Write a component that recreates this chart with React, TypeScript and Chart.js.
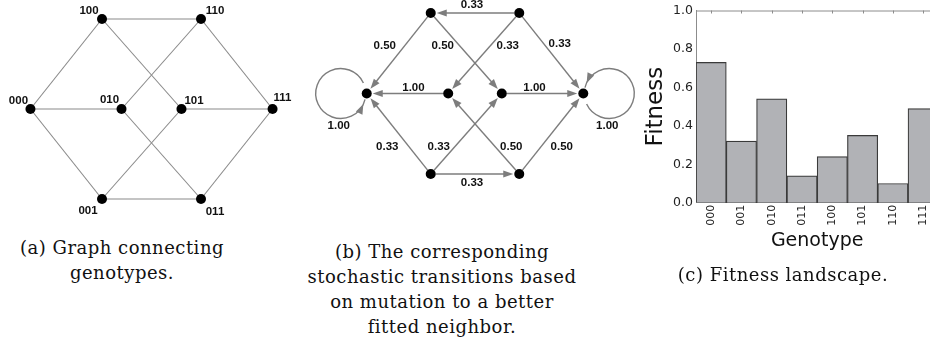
import React, { useEffect, useRef } from 'react';
import { Chart, registerables } from 'chart.js';

Chart.register(...registerables);

// ---------- data ----------
const genotypes = ['000', '001', '010', '011', '100', '101', '110', '111'];
const fitness = [0.73, 0.32, 0.54, 0.14, 0.24, 0.35, 0.1, 0.49];
const yTickValues = [0, 0.2, 0.4, 0.6, 0.8, 1.0];

// graph layout of the genotype cube (graph units)
const nodeX = [-1.345, -0.55, -0.333, 0.55, -0.55, 0.333, 0.55, 1.345];
const nodeY = [0, -1, 0, -1, 1, 0, 1, 0];

// (a) undirected edges of the genotype graph
const edgeFrom = ['000', '000', '000', '100', '100', '110', '110', '010', '101', '101', '111', '001'];
const edgeTo = ['100', '010', '001', '110', '101', '010', '111', '011', '001', '111', '011', '011'];

// (b) stochastic transitions
const transFrom = ['110', '100', '100', '110', '110', '010', '101', '001', '001', '011', '011', '001'];
const transTo = ['100', '000', '101', '010', '111', '000', '111', '000', '101', '010', '111', '011'];
const transProb = [0.33, 0.5, 0.5, 0.33, 0.33, 1.0, 1.0, 0.33, 0.33, 0.5, 0.5, 0.33];
const loopNodes = ['000', '111'];
const loopProb = [1.0, 1.0];

// ---------- style ----------
const nodeLabelOffsets: [number, number][] = [
  [-12, -8], [-14, 12], [-12, -9], [14, 13], [-13, -8], [12.5, -8], [14, -8], [10, -11],
];
const transLabelOffsets: [number, number][] = [
  [-3, -8], [-14, -7.5], [-23.5, -7.5], [24, -7.5], [8.5, -9.5], [6, -6], [-8, -6],
  [-11.5, 13], [-27.5, 13], [27.5, 13], [10.5, 13], [-3, 9],
];
const LABEL_FONT = 'bold 11.5px "Liberation Sans", Arial, sans-serif';
const EDGE_GRAY = '#8a8a8a';
const ARROW_GRAY = '#7d7d7d';

const idx = (g: string) => genotypes.indexOf(g);
const nodePoints = () => genotypes.map((g, i) => ({ x: nodeX[i], y: nodeY[i] }));

function hiddenScales(xmin: number, xmax: number, ymin: number, ymax: number) {
  return {
    x: { type: 'linear' as const, min: xmin, max: xmax, display: false },
    y: { type: 'linear' as const, min: ymin, max: ymax, display: false },
  };
}

const baseOpts = {
  responsive: false,
  animation: false as const,
  events: [] as any[],
  layout: { padding: 0, autoPadding: false },
  plugins: { legend: { display: false }, tooltip: { enabled: false } },
};

// ---------- panel (a) ----------
const nodeLabelPlugin = {
  id: 'nodeLabels',
  afterDatasetsDraw(chart: any) {
    const { ctx, scales } = chart;
    ctx.save();
    ctx.font = LABEL_FONT;
    ctx.fillStyle = '#111';
    ctx.textAlign = 'center';
    ctx.textBaseline = 'middle';
    genotypes.forEach((g, i) => {
      const px = scales.x.getPixelForValue(nodeX[i]) + nodeLabelOffsets[i][0];
      const py = scales.y.getPixelForValue(nodeY[i]) + nodeLabelOffsets[i][1];
      ctx.fillText(g, px, py);
    });
    ctx.restore();
  },
};

// ---------- panel (b) ----------
function drawArrowHead(ctx: CanvasRenderingContext2D, tx: number, ty: number, ux: number, uy: number) {
  const len = 10, half = 3.6;
  const bx = tx - ux * len, by = ty - uy * len;
  ctx.beginPath();
  ctx.moveTo(tx, ty);
  ctx.lineTo(bx - uy * half, by + ux * half);
  ctx.lineTo(bx + uy * half, by - ux * half);
  ctx.closePath();
  ctx.fill();
}

const transitionPlugin = {
  id: 'transitions',
  beforeDatasetsDraw(chart: any) {
    const { ctx, scales } = chart;
    const P = (g: string) => {
      const i = idx(g);
      return [scales.x.getPixelForValue(nodeX[i]), scales.y.getPixelForValue(nodeY[i])];
    };
    ctx.save();
    ctx.strokeStyle = ARROW_GRAY;
    ctx.fillStyle = ARROW_GRAY;
    ctx.lineWidth = 1.4;
    transFrom.forEach((f, k) => {
      const [x1, y1] = P(f);
      const [x2, y2] = P(transTo[k]);
      const dx = x2 - x1, dy = y2 - y1;
      const L = Math.hypot(dx, dy);
      const ux = dx / L, uy = dy / L;
      const tx = x2 - ux * 6, ty = y2 - uy * 6;
      ctx.beginPath();
      ctx.moveTo(x1 + ux * 5, y1 + uy * 5);
      ctx.lineTo(tx - ux * 8, ty - uy * 8);
      ctx.stroke();
      drawArrowHead(ctx, tx, ty, ux, uy);
    });
    // self loops
    const R = 25;
    loopNodes.forEach((g, k) => {
      const [nx, ny] = P(g);
      const side = nodeX[idx(g)] < 0 ? -1 : 1;
      const cx = nx + side * (R + 1), cy = ny;
      const alpha = side < 0 ? 0 : Math.PI; // node direction seen from loop centre
      const a0 = alpha - (25 * Math.PI) / 180;
      const a1 = alpha + (25 * Math.PI) / 180;
      ctx.beginPath();
      ctx.arc(cx, cy, R, a0, a1 - 0.2, true);
      ctx.stroke();
      const tx = cx + R * Math.cos(a1), ty = cy + R * Math.sin(a1);
      drawArrowHead(ctx, tx, ty, Math.sin(a1), -Math.cos(a1));
      ctx.font = LABEL_FONT;
      ctx.fillStyle = '#111';
      ctx.textAlign = 'center';
      ctx.textBaseline = 'middle';
      ctx.fillText(loopProb[k].toFixed(2), cx - 2, cy + 32.5);
      ctx.fillStyle = ARROW_GRAY;
    });
    // labels
    ctx.font = LABEL_FONT;
    ctx.fillStyle = '#111';
    ctx.textAlign = 'center';
    ctx.textBaseline = 'middle';
    transFrom.forEach((f, k) => {
      const [x1, y1] = P(f);
      const [x2, y2] = P(transTo[k]);
      ctx.fillText(
        transProb[k].toFixed(2),
        (x1 + x2) / 2 + transLabelOffsets[k][0],
        (y1 + y2) / 2 + transLabelOffsets[k][1]
      );
    });
    ctx.restore();
  },
};

// ---------- panel (c) ----------
const frameTicksPlugin = {
  id: 'frameTicks',
  afterDraw(chart: any) {
    const { ctx, chartArea, scales } = chart;
    ctx.save();
    ctx.strokeStyle = '#8c8c8c';
    ctx.lineWidth = 1;
    ctx.beginPath();
    ctx.moveTo(chartArea.left, chartArea.top + 0.5);
    ctx.lineTo(chartArea.right, chartArea.top + 0.5);
    genotypes.forEach((_, i) => {
      const px = Math.round(scales.x.getPixelForValue(i)) + 0.5;
      ctx.moveTo(px, chartArea.top);
      ctx.lineTo(px, chartArea.top + 3);
    });
    ctx.stroke();
    ctx.restore();
  },
};

export default function App() {
  const aRef = useRef<HTMLCanvasElement>(null);
  const bRef = useRef<HTMLCanvasElement>(null);
  const cRef = useRef<HTMLCanvasElement>(null);

  useEffect(() => {
    const pts = nodePoints();
    const charts: Chart[] = [];

    // (a)
    charts.push(
      new Chart(aRef.current!, {
        type: 'scatter',
        data: {
          datasets: [
            {
              data: pts,
              pointRadius: 5,
              pointBackgroundColor: '#000',
              pointBorderWidth: 0,
              order: 0,
            } as any,
            ...edgeFrom.map((f, k) => ({
              data: [pts[idx(f)], pts[idx(edgeTo[k])]],
              showLine: true,
              borderColor: EDGE_GRAY,
              borderWidth: 1.1,
              pointRadius: 0,
              order: 1,
            })),
          ],
        },
        options: {
          ...baseOpts,
          scales: hiddenScales(-151.5 / 90, (305 - 151.5) / 90, -(230 - 109) / 90, 109 / 90),
        } as any,
        plugins: [nodeLabelPlugin],
      })
    );

    // (b)
    charts.push(
      new Chart(bRef.current!, {
        type: 'scatter',
        data: {
          datasets: [
            {
              data: pts,
              pointRadius: 5,
              pointBackgroundColor: '#000',
              pointBorderWidth: 0,
            } as any,
          ],
        },
        options: {
          ...baseOpts,
          scales: hiddenScales(-175 / 80.5, 175 / 80.5, -(200 - 93.5) / 80.5, 93.5 / 80.5),
        } as any,
        plugins: [transitionPlugin],
      })
    );

    // (c)
    charts.push(
      new Chart(cRef.current!, {
        type: 'bar',
        data: {
          labels: genotypes,
          datasets: [
            {
              data: fitness,
              backgroundColor: '#b1b2b6',
              borderColor: '#3a3a3a',
              borderWidth: 1.2,
              categoryPercentage: 1,
              barPercentage: 1,
            },
          ],
        },
        options: {
          ...baseOpts,
          layout: { padding: { top: 7.7, right: 11.7, bottom: 0, left: 0 }, autoPadding: false },
          scales: {
            x: {
              grid: { display: false, drawTicks: false },
              border: { display: true, color: '#444', width: 1 },
              ticks: {
                minRotation: 90,
                maxRotation: 90,
                autoSkip: false,
                padding: 2,
                color: '#222',
                font: { family: '"DejaVu Sans", sans-serif', size: 11 },
              },
              title: {
                display: true,
                text: 'Genotype',
                color: '#111',
                font: { family: '"DejaVu Sans", sans-serif', size: 19 },
                padding: { top: 0, bottom: 7.6 },
              },
              afterFit: (s: any) => {
                s.height = 57.3;
              },
            },
            y: {
              min: 0,
              max: 1,
              grid: { display: false, drawTicks: false },
              border: { display: true, color: '#8c8c8c', width: 1 },
              afterBuildTicks: (s: any) => {
                s.ticks = yTickValues.map((v) => ({ value: v }));
              },
              ticks: {
                padding: 3,
                color: '#222',
                font: { family: '"DejaVu Sans", sans-serif', size: 12.5 },
                callback: (v: any) => Number(v).toFixed(1),
              },
              title: {
                display: true,
                text: 'Fitness',
                color: '#111',
                font: { family: '"DejaVu Sans", sans-serif', size: 23 },
                padding: { top: 12.2, bottom: 0 },
              },
              afterFit: (s: any) => {
                s.width = 66;
              },
            },
          },
        } as any,
        plugins: [frameTicksPlugin],
      })
    );

    return () => charts.forEach((c) => c.destroy());
  }, []);

  const caption: React.CSSProperties = {
    position: 'absolute',
    width: 320,
    textAlign: 'center',
    fontFamily: '"DejaVu Serif", serif',
    fontSize: 18,
    letterSpacing: 0.5,
    lineHeight: '25px',
    color: '#111',
    whiteSpace: 'nowrap',
  };

  return (
    <div
      style={{
        position: 'fixed',
        left: 0,
        top: 0,
        width: 930,
        height: 347,
        overflow: 'hidden',
        background: '#fff',
      }}
    >
      <canvas ref={aRef} width={305} height={230} style={{ position: 'absolute', left: 0, top: 0 }} />
      <canvas ref={bRef} width={350} height={200} style={{ position: 'absolute', left: 300, top: 0 }} />
      <canvas ref={cRef} width={320} height={260} style={{ position: 'absolute', left: 630, top: 0 }} />
      <div style={{ ...caption, left: 122 - 160, top: 235 }}>
        (a) Graph connecting
        <br />
        genotypes.
      </div>
      <div style={{ ...caption, left: 442 - 160, top: 238.5 }}>
        (b) The corresponding
        <br />
        stochastic transitions based
        <br />
        on mutation to a better
        <br />
        fitted neighbor.
      </div>
      <div style={{ ...caption, left: 783 - 160, top: 261.5 }}>(c) Fitness landscape.</div>
    </div>
  );
}
